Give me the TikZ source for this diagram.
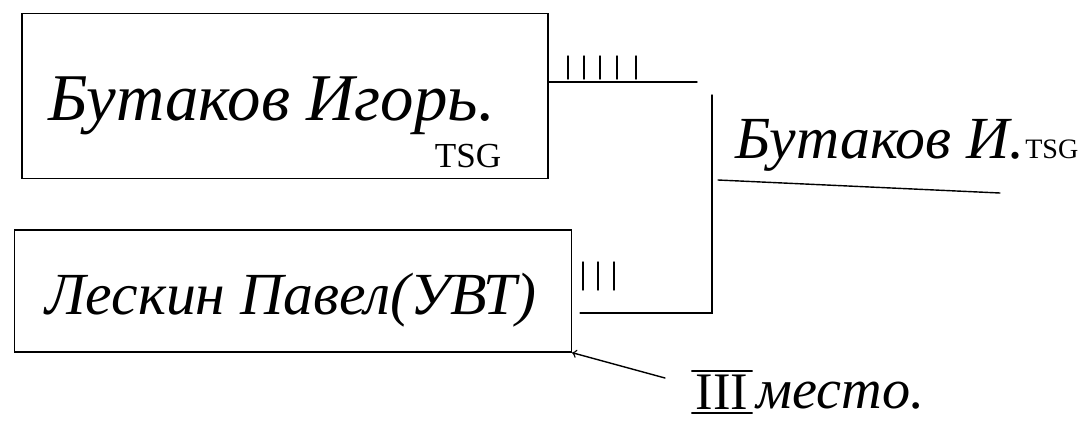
\documentclass[tikz,border=0pt]{standalone}
\usepackage{fontspec}
\setmainfont{Liberation Serif}
\usetikzlibrary{positioning, calc}

\tikzset{
	namebox/.style={draw, thick, rectangle, inner sep=0pt},
	hand/.style={font=\itshape\fontsize{38}{46}\selectfont, inner sep=0pt},
	club/.style={font=\fontsize{20}{24}\selectfont, inner sep=0pt},
	wire/.style={thick, line cap=round},
}

\begin{document}
\begin{tikzpicture}[x=0.02cm, y=-0.02cm]
					\useasboundingbox (0,0) rectangle (1090,424);

					% first pair
					\node[namebox, minimum width=10.52cm, minimum height=3.3cm] (igor) at (285,96) {};
					\node[hand, anchor=base west] (igorname) at (48,120) {Бутаков Игорь.};
					\node[club] (igorclub) at (468,156) {TSG};

					\node[namebox, minimum width=11.14cm, minimum height=2.44cm] (pavel) at (293,291) {};
					\node[hand, anchor=base west, font=\itshape\fontsize{34}{40}\selectfont] (pavelname) at (45,314) {Лескин Павел(УВТ)};

					% bracket
					\coordinate (j1) at (697,82);
					\coordinate (j2) at (712,95);
					\coordinate (j3) at (712,313);
					\coordinate (j4) at (718,180);
					\coordinate (j5) at (1000,193);
					\draw[wire] (igor.east |- j1) -- (j1);
					\draw[wire] (j2) -- (j3) -- ([xshift=0.16cm]pavel.east |- j3);
					\draw[wire] (j4) -- (j5);

					% tallies
					\foreach \x in {568,584,600,617,636}
						\draw[wire] (\x,56) -- (\x,79);
					\foreach \x in {583,598,614}
						\draw[wire] (\x,262) -- (\x,290);

					% winner
					\node[hand, anchor=base west, font=\itshape\fontsize{34}{40}\selectfont] (winner) at (735,158) {Бутаков И.};
					\node[club, anchor=base west, font=\fontsize{16}{20}\selectfont] (winnerclub) at (winner.base east) {TSG};

					% third place
					\node[font=\fontsize{30}{34}\selectfont, inner sep=2pt] (third) at (722,392) {III};
					\draw[wire] (third.north west) -- (third.north east);
					\draw[wire] (third.south west) -- (third.south east);
					\node[hand, anchor=base west, font=\itshape\fontsize{32}{38}\selectfont] (place) at (756,408) {место.};
					\coordinate (a1) at (665,378);
					\draw[wire, ->] (a1) -- (pavel.south east);
				\end{tikzpicture}
\end{document}
